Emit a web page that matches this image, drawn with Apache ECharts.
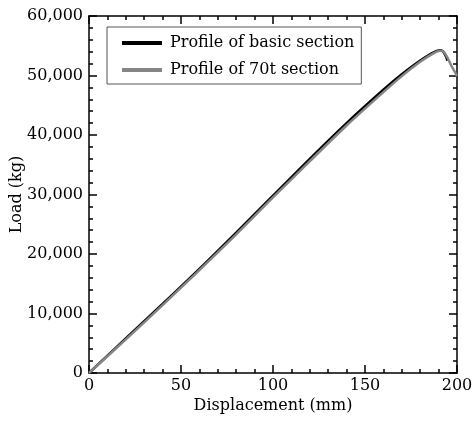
<!DOCTYPE html>
<html><head><meta charset="utf-8">
<script src="https://cdn.jsdelivr.net/npm/echarts@6/dist/echarts.min.js"></script>
<style>html,body{margin:0;padding:0;background:#fff}#c{width:476px;height:423px}</style>
</head><body><div id="c"></div>
<script>
var basicX = [0, 20, 40, 60, 80, 100, 120, 140, 160, 170, 180, 186, 189, 191, 192.5, 194, 194.8];
var basicY = [0, 5800, 11600, 17500, 23600, 29800, 36000, 42000, 47600, 50200, 52500, 53700, 54150, 54250, 54000, 53200, 52500];
var t70X = [0, 20, 40, 60, 80, 100, 120, 140, 160, 170, 180, 186, 189, 191, 193, 195, 197, 199, 200];
var t70Y = [0, 5650, 11400, 17300, 23300, 29500, 35600, 41600, 47200, 49900, 52300, 53500, 54000, 54150, 53900, 52900, 51600, 50500, 49900];
var seriesNames = ['Profile of basic section', 'Profile of 70t section'];

function pairs(xs, ys){ return xs.map(function(x,i){return [x, ys[i]];}); }
var font = 'DejaVu Serif';
var chart = echarts.init(document.getElementById('c'));
var axisCommon = {
  type: 'value',
  axisLine: {show: true, onZero: false, lineStyle: {color: '#000', width: 1.5}},
  axisTick: {show: true, inside: true, length: 8, lineStyle: {color: '#000', width: 1.5}},
  minorTick: {show: true, splitNumber: 5, length: 4, lineStyle: {color: '#000', width: 1.5}},
  splitLine: {show: false}
};
chart.setOption({
  animation: false,
  grid: {left: 89, right: 19, top: 16, bottom: 50, containLabel: false, outerBoundsMode: 'none'},
  legend: {
    orient: 'vertical', left: 107, top: 27,
    padding: [7, 7, 5, 15],
    borderColor: '#555', borderWidth: 1,
    itemWidth: 40, itemHeight: 4, itemGap: 9,
    icon: 'rect',
    textStyle: {fontFamily: font, fontSize: 16, lineHeight: 18, color: '#000', padding: [0, 0, 0, 3]},
    data: seriesNames
  },
  xAxis: [
    Object.assign({}, axisCommon, {min: 0, max: 200, interval: 50, position: 'bottom',
      name: 'Displacement (mm)', nameLocation: 'middle', nameGap: 25, nameMoveOverlap: false,
      nameTextStyle: {fontFamily: font, fontSize: 16, color: '#000'},
      axisLabel: {fontFamily: font, fontSize: 16, color: '#000', margin: 5}}),
    Object.assign({}, axisCommon, {min: 0, max: 200, interval: 50, position: 'top', axisLabel: {show: false}})
  ],
  yAxis: [
    Object.assign({}, axisCommon, {min: 0, max: 60000, interval: 10000, position: 'left',
      name: 'Load (kg)', nameLocation: 'middle', nameGap: 64, nameMoveOverlap: false,
      nameTextStyle: {fontFamily: font, fontSize: 16, color: '#000'},
      axisLabel: {fontFamily: font, fontSize: 16, color: '#000', margin: 6,
        formatter: function(v){ return v.toLocaleString('en-US'); }}}),
    Object.assign({}, axisCommon, {min: 0, max: 60000, interval: 10000, position: 'right', axisLabel: {show: false}})
  ],
  series: [
    {name: seriesNames[0], type: 'line', data: pairs(basicX, basicY), smooth: 0.3, showSymbol: false, symbol: 'none',
      color: '#000', lineStyle: {color: '#000', width: 2.5}},
    {name: seriesNames[1], type: 'line', data: pairs(t70X, t70Y), smooth: 0.3, showSymbol: false, symbol: 'none',
      color: '#858585', lineStyle: {color: '#858585', width: 2.5}}
  ]
});
</script></body></html>
